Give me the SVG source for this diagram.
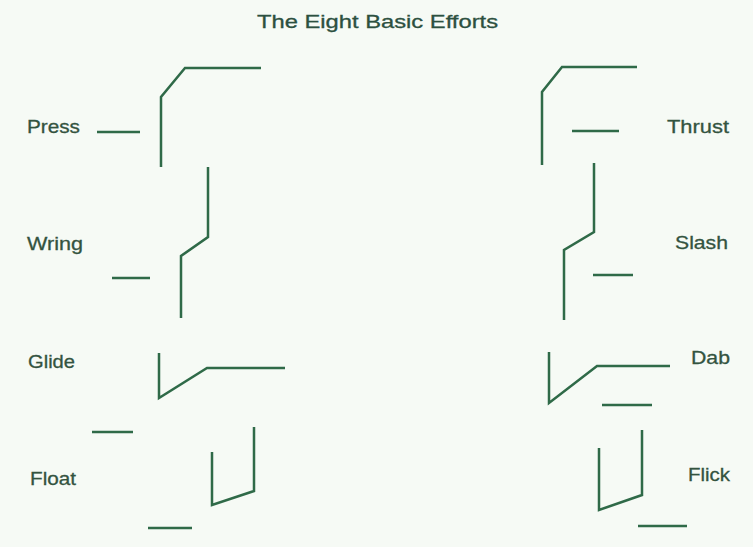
<svg xmlns="http://www.w3.org/2000/svg" width="753" height="547" viewBox="0 0 753 547">
<style>
.ln{fill:none;stroke:#2f6a48;stroke-width:2.5;stroke-linejoin:miter;stroke-linecap:butt}
.lb{font-family:"Liberation Sans",Arial,sans-serif;font-size:19px;fill:#33533f;stroke:#33533f;stroke-width:0.3}
.tt{font-family:"Liberation Sans",Arial,sans-serif;font-size:19px;fill:#2c5040;stroke:#2c5040;stroke-width:0.3}
</style>
<rect width="753" height="547" fill="#f6faf5"/>
<g id="title"><text class="tt" x="257" y="28" textLength="241" lengthAdjust="spacingAndGlyphs">The Eight Basic Efforts</text></g>
<g id="connectors">
</g>
<g id="press">
<text class="lb" x="27" y="133" textLength="53" lengthAdjust="spacingAndGlyphs">Press</text>
<line class="ln" x1="97" y1="132" x2="140" y2="132"/>
<polyline class="ln" points="161,167 161,97 185,68 261,68"/>
</g>
<g id="wring">
<text class="lb" x="27" y="250" textLength="56" lengthAdjust="spacingAndGlyphs">Wring</text>
<line class="ln" x1="112" y1="278" x2="150" y2="278"/>
<polyline class="ln" points="208,167 208,237 181,256 181,318"/>
</g>
<g id="glide">
<text class="lb" x="28" y="368" textLength="47" lengthAdjust="spacingAndGlyphs">Glide</text>
<line class="ln" x1="92" y1="432" x2="133" y2="432"/>
<polyline class="ln" points="159,353 159,398 207,368 285,368"/>
</g>
<g id="float">
<text class="lb" x="30" y="485" textLength="46" lengthAdjust="spacingAndGlyphs">Float</text>
<line class="ln" x1="148" y1="528" x2="192" y2="528"/>
<polyline class="ln" points="212,452 212,505 254,491 254,427"/>
</g>
<g id="thrust">
<text class="lb" x="667" y="133" textLength="62" lengthAdjust="spacingAndGlyphs">Thrust</text>
<line class="ln" x1="572" y1="131" x2="619" y2="131"/>
<polyline class="ln" points="637,67 562,67 542,92 542,165"/>
</g>
<g id="slash">
<text class="lb" x="675" y="249" textLength="53" lengthAdjust="spacingAndGlyphs">Slash</text>
<line class="ln" x1="593" y1="275" x2="633" y2="275"/>
<polyline class="ln" points="594,163 594,232 564,250 564,320"/>
</g>
<g id="dab">
<text class="lb" x="691" y="364" textLength="39" lengthAdjust="spacingAndGlyphs">Dab</text>
<line class="ln" x1="602" y1="405" x2="652" y2="405"/>
<polyline class="ln" points="549,352 549,403 597,366 670,366"/>
</g>
<g id="flick">
<text class="lb" x="688" y="481" textLength="42" lengthAdjust="spacingAndGlyphs">Flick</text>
<line class="ln" x1="638" y1="526" x2="687" y2="526"/>
<polyline class="ln" points="599,448 599,510 642,495 642,430"/>
</g>
</svg>
